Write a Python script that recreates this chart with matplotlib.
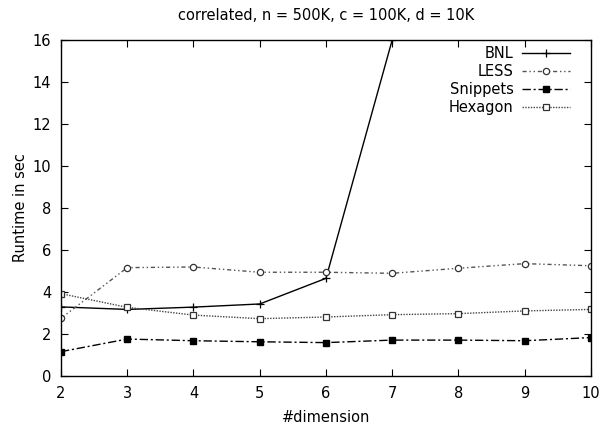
import matplotlib
matplotlib.use("Agg")
import matplotlib.pyplot as plt

plt.rcParams['font.family'] = ['DejaVu Sans']

dims = [2, 3, 4, 5, 6, 7, 8, 9, 10]
bnl_x = [2, 3, 4, 5, 6, 7]
bnl = [3.29, 3.17, 3.28, 3.43, 4.65, 16.0]
less = [2.75, 5.16, 5.19, 4.94, 4.94, 4.89, 5.13, 5.35, 5.25]
snippets = [1.16, 1.76, 1.68, 1.63, 1.59, 1.71, 1.71, 1.68, 1.83]
hexagon = [3.92, 3.27, 2.90, 2.73, 2.81, 2.92, 2.97, 3.10, 3.17]

FS = 10.5

fig = plt.figure(figsize=(6.13, 4.34), dpi=100)
ax = fig.add_axes([0.0995, 0.1336, 0.8645, 0.7744])

ax.plot(bnl_x, bnl, color='black', lw=1.0, marker='+', ms=5.5, mew=0.9, label='BNL')
ax.plot(dims, less, color='#555555', lw=1.0, linestyle=(0, (3, 2, 1, 2, 1, 2)), marker='o', ms=4.5,
        mfc='white', mec='#333333', mew=0.9, label='LESS')
ax.plot(dims, snippets, color='black', lw=1.0, linestyle=(0, (6, 2, 1.5, 2)), marker='s', ms=5,
        mfc='black', mec='black', label='Snippets')
ax.plot(dims, hexagon, color='#444444', lw=1.0, linestyle=(0, (1, 1)), marker='s', ms=5,
        mfc='white', mec='#333333', mew=0.9, label='Hexagon')

ax.set_xlim(2, 10)
ax.set_ylim(0, 16)
ax.set_xticks(dims)
ax.set_yticks(range(0, 17, 2))
ax.tick_params(direction='in', top=True, right=True, length=5, width=0.8, labelsize=FS)
ax.tick_params(axis='x', pad=7)
ax.tick_params(axis='y', pad=7)
for s in ax.spines.values():
    s.set_linewidth(1.0)

ax.set_xlabel('#dimension', fontsize=FS, labelpad=7)
ax.set_ylabel('Runtime in sec', fontsize=FS, labelpad=3)
ax.set_title('correlated, n = 500K, c = 100K, d = 10K', fontsize=FS, pad=14.5)

ax.legend(loc='upper right', bbox_to_anchor=(0.966, 0.99), frameon=False, markerfirst=False,
          fontsize=FS, handlelength=3.3, labelspacing=0.2, borderaxespad=0.0, borderpad=0.2,
          handletextpad=0.55)

fig.savefig('out.png', dpi=100)
